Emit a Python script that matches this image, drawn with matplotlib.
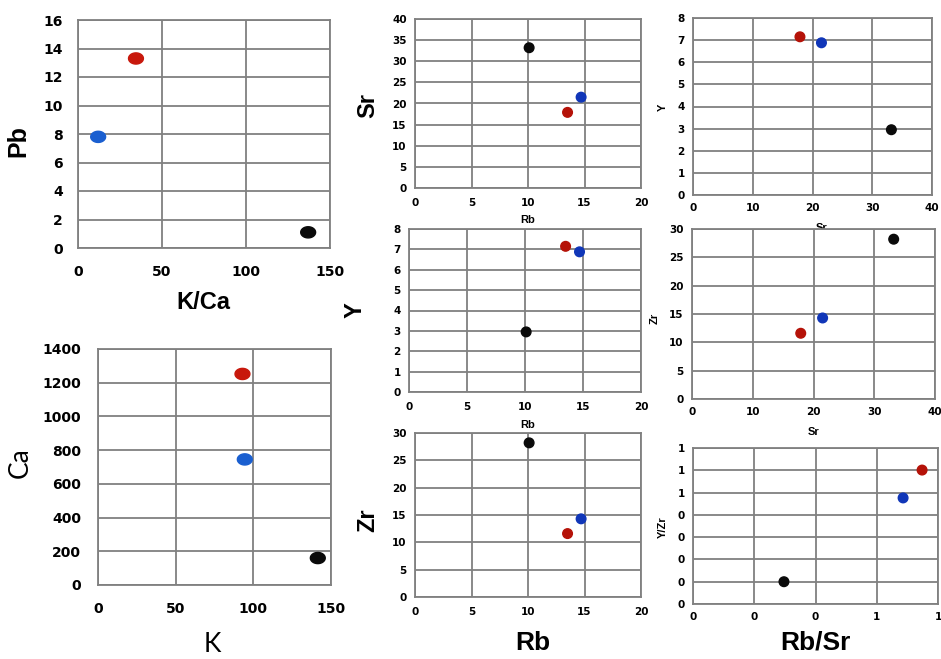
import matplotlib
matplotlib.use('Agg')
import matplotlib.pyplot as plt
import numpy as np
from matplotlib.path import Path
from matplotlib.ticker import FixedLocator, FixedFormatter

plt.rcParams['font.family'] = ['Liberation Sans', 'DejaVu Sans']

# sample colours: red, blue, black
red = '#c8180c'
blue = '#1a5fd0'
blue_dark = '#1036b8'
black = '#0a0a0a'

# panel data (red, blue, black)
k_ca = [34.5, 12, 137]
pb = [13.3, 7.8, 1.1]

k = [93, 94.5, 141.5]
ca = [1252, 745, 160]

rb = [13.5, 14.7, 10.1]
sr = [17.9, 21.5, 33.2]
y_el = [7.15, 6.88, 2.95]
zr = [11.6, 14.3, 28.2]

rb_sr = [0.748, 0.686, 0.297]
y_zr = [0.601, 0.476, 0.100]

# odd rounded tick labels from the last panel
h_xticks = [0, 0.2, 0.4, 0.6, 0.8]
h_xlabels = ['0', '0', '0', '1', '1']
h_yticks = [0, 0.1, 0.2, 0.3, 0.4, 0.5, 0.6, 0.7]
h_ylabels = ['0', '0', '0', '0', '0', '1', '1', '1']

W, H = 941, 659
fig = plt.figure(figsize=(W / 100, H / 100), dpi=100)

t = np.linspace(0, 2 * np.pi, 40)
oval = Path(np.column_stack([np.cos(t), 0.75 * np.sin(t)]), closed=True)


def panel(l, r, top, bot):
    ax = fig.add_axes([l / W, 1 - bot / H, (r - l) / W, (bot - top) / H])
    ax.grid(True, color='#808080', lw=1.3)
    ax.set_axisbelow(True)
    for s in ax.spines.values():
        s.set_color('#808080')
        s.set_linewidth(1.3)
    ax.tick_params(length=0)
    return ax


def style(ax, fs, padx, pady):
    ax.tick_params(axis='x', labelsize=fs, pad=padx)
    ax.tick_params(axis='y', labelsize=fs, pad=pady)
    for lab in ax.get_xticklabels() + ax.get_yticklabels():
        lab.set_fontweight('bold')
        lab.set_family('DejaVu Sans')


def labels(ax, xl, xpos, xfs, xw, yl, ypos, yfs, yw, fam='Liberation Sans'):
    ax.set_xlabel(xl, fontsize=xfs, fontweight=xw, va='center', family=fam)
    ax.xaxis.set_label_coords(*xpos)
    ax.set_ylabel(yl, fontsize=yfs, fontweight=yw, va='center', family=fam)
    ax.yaxis.set_label_coords(*ypos)


cols_big = [red, blue, black]
cols_small = ['#b51208', blue_dark, black]

# A: Pb vs K/Ca
ax = panel(78, 330, 20, 248)
ax.scatter(k_ca, pb, c=cols_big, marker=oval, s=115, zorder=3)
ax.set_xlim(0, 150)
ax.set_ylim(0, 16)
ax.set_xticks([0, 50, 100, 150])
ax.set_yticks(range(0, 17, 2))
style(ax, 10, 12, 11)
labels(ax, 'K/Ca', (0.496, -0.237), 17, 'bold', 'Pb', (-0.238, 0.47), 18, 'bold')

# B: Ca vs K
ax = panel(98, 331, 349, 585)
ax.scatter(k, ca, c=cols_big, marker=oval, s=115, zorder=3)
ax.set_xlim(0, 150)
ax.set_ylim(0, 1400)
ax.set_xticks([0, 50, 100, 150])
ax.set_yticks(range(0, 1401, 200))
style(ax, 10, 12, 12)
labels(ax, 'K', (0.49, -0.254), 19, 'normal', 'Ca', (-0.335, 0.517), 19, 'normal',
       fam='Lato')

# C: Sr vs Rb
ax = panel(415, 641, 19, 188)
ax.scatter(rb, sr, c=cols_small, s=48, zorder=3)
ax.set_xlim(0, 20)
ax.set_ylim(0, 40)
ax.set_xticks([0, 5, 10, 15, 20])
ax.set_yticks(range(0, 41, 5))
style(ax, 7.5, 7, 6)
labels(ax, 'Rb', (0.5, -0.19), 8, 'bold', 'Sr', (-0.208, 0.49), 17, 'bold')

# D: Y vs Rb
ax = panel(409, 641, 229, 392)
ax.scatter(rb, y_el, c=cols_small, s=48, zorder=3)
ax.set_xlim(0, 20)
ax.set_ylim(0, 8)
ax.set_xticks([0, 5, 10, 15, 20])
ax.set_yticks(range(0, 9))
style(ax, 7.5, 7, 6)
labels(ax, 'Rb', (0.51, -0.20), 8, 'bold', 'Y', (-0.233, 0.503), 17, 'bold')

# E: Zr vs Rb
ax = panel(415, 641, 433, 597)
ax.scatter(rb, zr, c=cols_small, s=48, zorder=3)
ax.set_xlim(0, 20)
ax.set_ylim(0, 30)
ax.set_xticks([0, 5, 10, 15, 20])
ax.set_yticks(range(0, 31, 5))
style(ax, 7.5, 7, 6)
labels(ax, 'Rb', (0.52, -0.28), 19, 'bold', 'Zr', (-0.208, 0.47), 17, 'bold')

# F: Y vs Sr
ax = panel(693, 932, 18, 195)
ax.scatter(sr, y_el, c=cols_small, s=48, zorder=3)
ax.set_xlim(0, 40)
ax.set_ylim(0, 8)
ax.set_xticks([0, 10, 20, 30, 40])
ax.set_yticks(range(0, 9))
style(ax, 7.5, 6, 6)
labels(ax, 'Sr', (0.54, -0.186), 8, 'bold', 'Y', (-0.126, 0.497), 8, 'bold')

# G: Zr vs Sr
ax = panel(692, 935, 229, 399)
ax.scatter(sr, zr, c=cols_small, s=48, zorder=3)
ax.set_xlim(0, 40)
ax.set_ylim(0, 30)
ax.set_xticks([0, 10, 20, 30, 40])
ax.set_yticks(range(0, 31, 5))
style(ax, 7.5, 6, 6)
labels(ax, 'Sr', (0.50, -0.194), 8, 'bold', 'Zr', (-0.152, 0.476), 8, 'bold')

# H: Y/Zr vs Rb/Sr
ax = panel(693, 938, 448, 604)
ax.scatter(rb_sr, y_zr, c=cols_small, s=48, zorder=3)
ax.set_xlim(0, 0.8)
ax.set_ylim(0, 0.7)
ax.xaxis.set_major_locator(FixedLocator(h_xticks))
ax.xaxis.set_major_formatter(FixedFormatter(h_xlabels))
ax.yaxis.set_major_locator(FixedLocator(h_yticks))
ax.yaxis.set_major_formatter(FixedFormatter(h_ylabels))
style(ax, 7.5, 6, 6)
labels(ax, 'Rb/Sr', (0.50, -0.244), 19, 'bold', 'Y/Zr', (-0.122, 0.49), 8, 'bold')

fig.savefig('out.png', dpi=100)
